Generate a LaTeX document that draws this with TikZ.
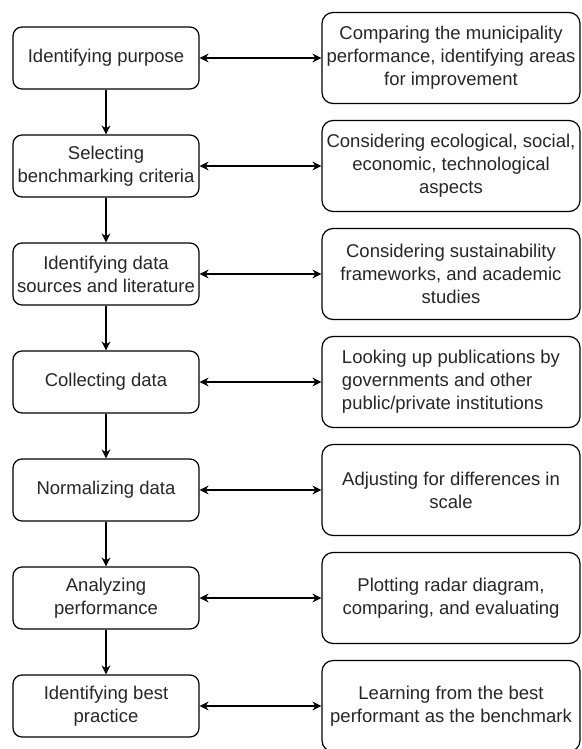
\documentclass[tikz,border=0pt]{standalone}
\usepackage{fontspec}
\setmainfont{Liberation Sans}
\usepackage{tikz}
\usetikzlibrary{positioning}
\usetikzlibrary{arrows.meta}

\begin{document}
\begin{tikzpicture}[
        x=1pt, y=1pt,
        font=\fontsize{18.5}{23}\selectfont,
        stepbox/.style={draw, line width=1.2pt, rounded corners=9pt, align=center, text=black!85,
            minimum width=186pt, minimum height=62pt, inner sep=0pt},
        notebox/.style={draw, line width=1.2pt, rounded corners=11pt, align=center, text=black!85,
            minimum width=258pt, minimum height=91pt, inner sep=0pt},
        flow/.style={line width=1.2pt, -{Stealth[length=9pt,width=9pt]}},
        link/.style={line width=1.2pt, {Stealth[length=9pt,width=9pt]}-{Stealth[length=9pt,width=9pt]}},
        node distance=44.8pt and 121.8pt
    ]

        \useasboundingbox (0,0) rectangle (581,-749);

        \node[stepbox] (purpose) at (106,-58) {Identifying purpose};
        \node[stepbox, below=of purpose] (criteria) {Selecting\\benchmarking criteria};
        \node[stepbox, below=of criteria] (sources) {Identifying data\\sources and literature};
        \node[stepbox, below=of sources] (collect) {Collecting data};
        \node[stepbox, below=of collect] (normal) {Normalizing data};
        \node[stepbox, below=of normal] (analyze) {Analyzing\\performance};
        \node[stepbox, below=of analyze] (bestpr) {Identifying best\\practice};

        \node[notebox, right=of purpose] (purposeR) {Comparing the municipality\\performance, identifying areas\\for improvement};
        \node[notebox, right=of criteria] (criteriaR) {Considering ecological, social,\\economic, technological\\aspects};
        \node[notebox, right=of sources] (sourcesR) {Considering sustainability\\frameworks, and academic\\studies};
        \node[notebox, right=of collect, align=left] (collectR) {Looking up publications by\\governments and other\\public/private institutions};
        \node[notebox, right=of normal] (normalR) {Adjusting for differences in\\scale};
        \node[notebox, right=of analyze] (analyzeR) {Plotting radar diagram,\\comparing, and evaluating};
        \node[notebox, right=of bestpr] (bestprR) {Learning from the best\\performant as the benchmark};

        \draw[flow] (purpose) -- (criteria);
        \draw[flow] (criteria) -- (sources);
        \draw[flow] (sources) -- (collect);
        \draw[flow] (collect) -- (normal);
        \draw[flow] (normal) -- (analyze);
        \draw[flow] (analyze) -- (bestpr);

        \draw[link] (purpose) -- (purposeR);
        \draw[link] (criteria) -- (criteriaR);
        \draw[link] (sources) -- (sourcesR);
        \draw[link] (collect) -- (collectR);
        \draw[link] (normal) -- (normalR);
        \draw[link] (analyze) -- (analyzeR);
        \draw[link] (bestpr) -- (bestprR);

    \end{tikzpicture}
\end{document}
